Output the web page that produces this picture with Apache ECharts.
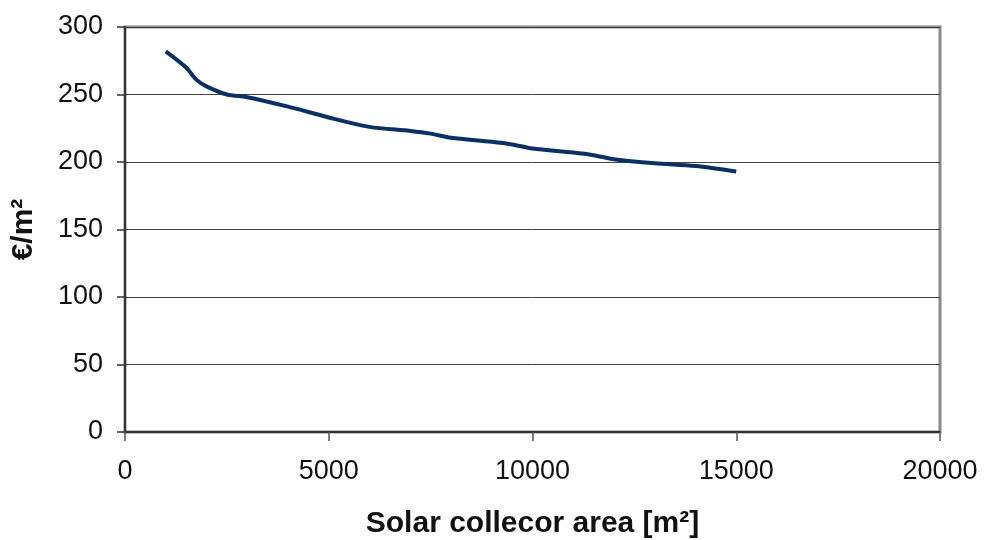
<!DOCTYPE html>
<html>
<head>
<meta charset="utf-8">
<script src="https://cdn.jsdelivr.net/npm/echarts@6/dist/echarts.min.js"></script>
<style>html,body{margin:0;padding:0;background:#fff;}#c{width:984px;height:540px;}</style>
</head>
<body>
<div id="c"></div>
<script>
var areas = [1000, 1500, 1750, 2000, 2500, 3000, 4000, 5000, 6000, 7000, 7500, 8000, 9000, 9500, 10000, 11000, 11500, 12000, 13000, 14000, 15000];
var costs = [282, 270, 261, 256, 250, 248, 241, 233, 226, 223, 221, 218, 215, 213, 210, 207, 205, 202, 199, 197, 193];
var xTitle = 'Solar collecor area [m²]';
var yTitle = '€/m²';

var chart = echarts.init(document.getElementById('c'));
var font = "'Liberation Sans', Arial, sans-serif";
chart.setOption({
  animation: false,
  grid: {left: 125, right: 44, top: 27, bottom: 108, outerBoundsMode: 'none', containLabel: false, show: true, borderColor: '#8a8a8a', borderWidth: 3, backgroundColor: '#fff'},
  xAxis: {
    type: 'value', min: 0, max: 20000, interval: 5000,
    name: xTitle, nameLocation: 'middle', nameGap: 77,
    nameTextStyle: {fontFamily: font, fontWeight: 'bold', fontSize: 30, color: '#111'},
    axisLine: {show: true, onZero: false, lineStyle: {color: '#333', width: 2}},
    axisTick: {show: true, inside: false, length: 9, lineStyle: {color: '#555', width: 1.5}},
    axisLabel: {fontFamily: font, fontSize: 27, color: '#111', margin: 26, formatter: function (v) { return String(v); }},
    splitLine: {show: false}
  },
  yAxis: {
    type: 'value', min: 0, max: 300, interval: 50,
    name: yTitle, nameLocation: 'middle', nameGap: 86, nameRotate: 90,
    nameTextStyle: {fontFamily: font, fontWeight: 'bold', fontSize: 30, color: '#111'},
    axisLine: {show: true, lineStyle: {color: '#333', width: 2}},
    axisTick: {show: true, inside: false, length: 8, lineStyle: {color: '#333', width: 1.5}},
    axisLabel: {fontFamily: font, fontSize: 27, color: '#111', margin: 22, formatter: function (v) { return String(v); }},
    splitLine: {show: true, lineStyle: {color: '#444', width: 1}}
  },
  series: [{
    type: 'line',
    data: areas.map(function (a, i) { return [a, costs[i]]; }),
    showSymbol: false,
    smooth: 0.3,
    lineStyle: {color: '#0b3064', width: 4},
    itemStyle: {color: '#0b3064'}
  }]
});
</script>
</body>
</html>
